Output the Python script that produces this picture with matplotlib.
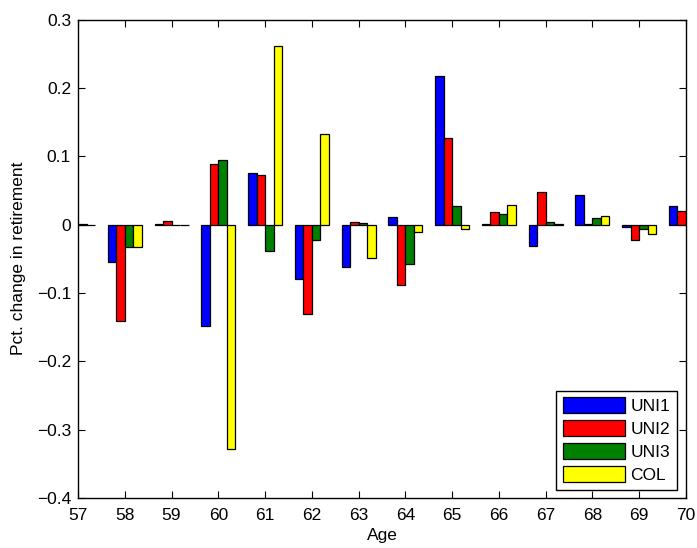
import numpy as np
import matplotlib
matplotlib.use('Agg')
import matplotlib.pyplot as plt

plt.rcParams['font.family'] = ['Liberation Sans', 'DejaVu Sans']
plt.rcParams['font.size'] = 12.5

ages = [57, 58, 59, 60, 61, 62, 63, 64, 65, 66, 67, 68, 69, 70]
uni1 = [0.0, -0.055, 0.001, -0.149, 0.076, -0.080, -0.062, 0.011, 0.218, 0.001, -0.031, 0.043, -0.004, 0.027]
uni2 = [0.0, -0.141, 0.005, 0.089, 0.072, -0.131, 0.004, -0.089, 0.126, 0.018, 0.047, 0.001, -0.023, 0.020]
uni3 = [0.001, -0.033, 0.0, 0.094, -0.039, -0.023, 0.002, -0.057, 0.027, 0.015, 0.004, 0.009, -0.006, 0.0]
col = [0.0, -0.033, 0.0, -0.328, 0.261, 0.133, -0.049, -0.011, -0.006, 0.029, 0.001, 0.012, -0.014, 0.0]
series = [uni1, uni2, uni3, col]
names = ['UNI1', 'UNI2', 'UNI3', 'COL']
colors = ['#0000ff', '#ff0000', '#008000', '#ffff00']

fig = plt.figure(figsize=(6.97, 5.48), dpi=100)
ax = fig.add_axes([78/697, 1-498/548, (686-78)/697, (498-19.5)/548])

x = np.array(ages)
gw = 4/5.5
w = gw/4
for i, (vals, nm, c) in enumerate(zip(series, names, colors)):
    ax.bar(x + (i-1.5)*w, vals, w, color=c, edgecolor='black', linewidth=0.9, label=nm)

ax.set_xlim(57, 70)
ax.set_ylim(-0.4, 0.3)
ax.set_xticks(range(57, 71))
ax.set_yticks(np.round(np.arange(-0.4, 0.31, 0.1), 1))
ax.set_yticklabels(['−0.4', '−0.3', '−0.2', '−0.1', '0', '0.1', '0.2', '0.3'])
ax.tick_params(direction='in', top=True, right=True, length=5, width=0.8)
ax.tick_params(axis='x', pad=7)
ax.tick_params(axis='y', pad=5)
for s in ax.spines.values():
    s.set_linewidth(1.0)
ax.set_xlabel('Age', labelpad=4)
ax.set_ylabel('Pct. change in retirement', labelpad=8)

leg = ax.legend(loc='lower right', bbox_to_anchor=(677/697, 1-490/548), bbox_transform=fig.transFigure,
                fancybox=False, edgecolor='black', framealpha=1, handlelength=3.6, handleheight=1.0,
                labelspacing=0.36, handletextpad=0.3, borderpad=0.4, borderaxespad=0)
leg.get_frame().set_linewidth(1.0)

fig.savefig('out.png', dpi=100)
